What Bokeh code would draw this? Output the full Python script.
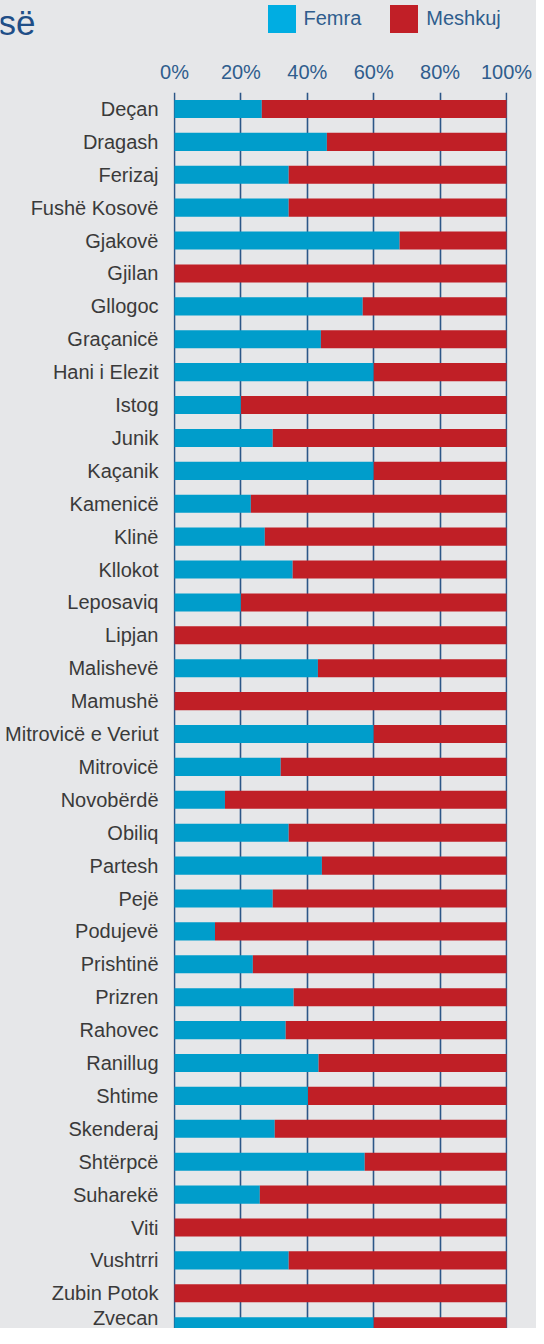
from bokeh.plotting import figure
from bokeh.layouts import column
from bokeh.models import ColumnDataSource, Range1d, FixedTicker, Legend, LegendItem, Label
from bokeh.embed import file_html
from bokeh.resources import INLINE

# ---------------- data ----------------
categories = [
    "Deçan", "Dragash", "Ferizaj", "Fushë Kosovë", "Gjakovë", "Gjilan", "Gllogoc",
    "Graçanicë", "Hani i Elezit", "Istog", "Junik", "Kaçanik", "Kamenicë", "Klinë",
    "Kllokot", "Leposaviq", "Lipjan", "Malishevë", "Mamushë", "Mitrovicë e Veriut",
    "Mitrovicë", "Novobërdë", "Obiliq", "Partesh", "Pejë", "Podujevë", "Prishtinë",
    "Prizren", "Rahovec", "Ranillug", "Shtime", "Skenderaj", "Shtërpcë", "Suharekë",
    "Viti", "Vushtrri", "Zubin Potok", "Zvecan",
]
femra = [26.3, 45.9, 34.4, 34.4, 67.8, 0.0, 56.7, 44.1, 60.0, 20.0, 29.6, 60.0, 23.0,
         27.2, 35.6, 20.0, 0.0, 43.2, 0.0, 60.0, 32.0, 15.2, 34.4, 44.4, 29.6, 12.2,
         23.6, 35.9, 33.5, 43.4, 40.2, 30.2, 57.3, 25.7, 0.0, 34.4, 0.0, 60.0]
meshkuj = [73.7, 54.1, 65.6, 65.6, 32.2, 100.0, 43.3, 55.9, 40.0, 80.0, 70.4, 40.0, 77.0,
           72.8, 64.4, 80.0, 100.0, 56.8, 100.0, 40.0, 68.0, 84.8, 65.6, 55.6, 70.4, 87.8,
           76.4, 64.1, 66.5, 56.6, 59.8, 69.8, 42.7, 74.3, 100.0, 65.6, 100.0, 40.0]
series_names = ["Femra", "Meshkuj"]
x_ticks = [0, 20, 40, 60, 80, 100]
x_tick_labels = ["0%", "20%", "40%", "60%", "80%", "100%"]
title_fragment = "së"

# ---------------- style ----------------
BG = "#e6e7e9"
BLUE = "#009dcb"
RED = "#c01f26"
LEG_BLUE = "#00ade2"
LEG_RED = "#c11f27"
NAVY = "#2f5d8d"
GRID = "#2c5687"
TXT = "#3a3a3a"
FONT = "Liberation Sans"
W = 536
HEAD_H = 56

# ---------------- header (title fragment + legend) ----------------
head = figure(width=W, height=HEAD_H, x_range=Range1d(0, W), y_range=Range1d(0, HEAD_H),
              x_axis_type=None, y_axis_type=None,
              output_backend="svg", toolbar_location=None,
              min_border_left=0, min_border_right=0, min_border_top=0, min_border_bottom=0)
head.background_fill_color = BG
head.border_fill_color = BG
head.outline_line_color = None
head.grid.visible = False

# legend swatch proxies (kept outside the visible header range)
proxy = ColumnDataSource(dict(left=[0], right=[1], bottom=[-20], top=[-10]))
sw_f = head.quad(left="left", right="right", bottom="bottom", top="top", source=proxy,
                 fill_color=LEG_BLUE, line_color=None)
sw_m = head.quad(left="left", right="right", bottom="bottom", top="top", source=proxy,
                 fill_color=LEG_RED, line_color=None)
legend = Legend(
    items=[LegendItem(label=series_names[0], renderers=[sw_f]),
           LegendItem(label=series_names[1], renderers=[sw_m])],
    location=(263.5, 19.7), orientation="horizontal",
    glyph_width=35, glyph_height=35, label_standoff=5, spacing=25,
    padding=0, margin=0, border_line_color=None, background_fill_alpha=0,
    label_text_font=FONT, label_text_font_size="20px", label_text_color=NAVY,
)
head.add_layout(legend)
head.add_layout(Label(x=35, y=34, text=title_fragment, text_align="right",
                      text_baseline="alphabetic", text_font=FONT,
                      text_font_size="35px", text_color="#1f4e87"))

# ---------------- main chart ----------------
positions = list(range(len(categories)))
src = ColumnDataSource(dict(y=positions, femra=femra, meshkuj=meshkuj))

p = figure(
    width=W, height=1328 - HEAD_H,
    x_range=Range1d(-0.3, 100.3),
    y_range=Range1d(37.07, -0.5),
    x_axis_location="above",
    output_backend="svg", toolbar_location=None,
    min_border_left=173, min_border_right=29, min_border_top=36, min_border_bottom=0,
)
p.background_fill_color = BG
p.border_fill_color = BG
p.outline_line_color = None

for fig in (head, p):
    if "frame_align" in fig.properties():
        fig.frame_align = False

p.hbar_stack(["femra", "meshkuj"], y="y", height=0.55, source=src,
             fill_color=[BLUE, RED], line_color=None)

# x axis (top)
p.xaxis.ticker = FixedTicker(ticks=x_ticks)
p.xaxis.major_label_overrides = {t: l for t, l in zip(x_ticks, x_tick_labels)}
p.xaxis.axis_line_color = None
p.xaxis.major_tick_line_color = None
p.xaxis.minor_tick_line_color = None
p.xaxis.major_tick_out = 0
p.xaxis.major_tick_in = 0
p.xaxis.major_label_standoff = 10
p.xaxis.major_label_text_font = FONT
p.xaxis.major_label_text_font_size = "20px"
p.xaxis.major_label_text_color = NAVY

# y axis (categories)
p.yaxis.ticker = FixedTicker(ticks=positions)
p.yaxis.major_label_overrides = {i: c for i, c in zip(positions, categories)}
p.yaxis.axis_line_color = None
p.yaxis.major_tick_line_color = None
p.yaxis.minor_tick_line_color = None
p.yaxis.major_tick_out = 0
p.yaxis.major_tick_in = 0
p.yaxis.major_label_standoff = 15
p.yaxis.major_label_text_font = FONT
p.yaxis.major_label_text_font_size = "20px"
p.yaxis.major_label_text_color = TXT

p.xgrid.ticker = FixedTicker(ticks=x_ticks)
p.xgrid.grid_line_color = GRID
p.xgrid.grid_line_width = 1.6
p.ygrid.visible = False

layout = column(head, p, spacing=0, styles={"background-color": BG})
open("out.html", "w").write(file_html(layout, INLINE))
